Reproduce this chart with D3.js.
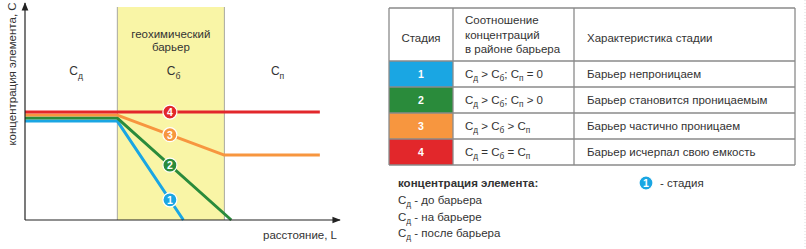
<!DOCTYPE html>
<html>
<head>
<meta charset="utf-8">
<script src="https://cdn.jsdelivr.net/npm/d3@7"></script>
<style>
  body { margin: 0; background: #fff; }
  svg { font-family: "Liberation Sans", Arial, sans-serif; }
</style>
</head>
<body>
<svg id="chart" width="806" height="249"></svg>
<script>
// chart data (distance L and concentration C in arbitrary units)
var barrier = [29.5, 63.7];
var stages = [1, 2, 3, 4];
var stageColors = ["#1aa6e3", "#2a8b3b", "#f7963f", "#e2272b"];
var stage1 = [[0, 46.0], [29.5, 46.0], [50.6, 0]];
var stage2 = [[0, 47.4], [29.5, 47.4], [65.9, 0]];
var stage3 = [[0, 48.8], [29.5, 48.8], [63.7, 30.2], [94.2, 30.2]];
var stage4 = [[0, 50.2], [94.2, 50.2]];
var markerL = 46.3;
var zoneLabels = ["д", "б", "п"];

// table data
var headers = ["Стадия", ["Соотношение", "концентраций", "в районе барьера"], "Характеристика стадии"];
var ratios = [
  [["С", "д"], " > ", ["С", "б"], "; ", ["С", "п"], " = 0"],
  [["С", "д"], " > ", ["С", "б"], "; ", ["С", "п"], " > 0"],
  [["С", "д"], " > ", ["С", "б"], " > ", ["С", "п"]],
  [["С", "д"], " = ", ["С", "б"], " = ", ["С", "п"]]
];
var descriptions = ["Барьер непроницаем", "Барьер становится проницаемым", "Барьер частично проницаем", "Барьер исчерпал свою емкость"];
var legendLines = ["до барьера", "на барьере", "после барьера"];

var svg = d3.select("#chart");
var textColor = "#333";

// ---- left chart ----
var x = d3.scaleLinear().domain([0, 100]).range([25, 338]);
var y = d3.scaleLinear().domain([0, 100]).range([220, 5]);

// barrier band
svg.append("rect")
  .attr("x", x(barrier[0]))
  .attr("y", 7)
  .attr("width", x(barrier[1]) - x(barrier[0]))
  .attr("height", y(0) - 7)
  .style("fill", "#f9f5a6");
[barrier[0], barrier[1]].forEach(function(b) {
  svg.append("line")
    .attr("x1", x(b)).attr("x2", x(b))
    .attr("y1", 7).attr("y2", y(0))
    .style("stroke", "#a8a8a0").style("stroke-width", 1);
});

// helper: text made of plain strings and [C, subscript] pairs
function appendParts(sel, parts, size) {
  var shift = 0;
  parts.forEach(function(p) {
    if (Array.isArray(p)) {
      sel.append("tspan").text(p[0]).attr("dy", -shift);
      sel.append("tspan").text(p[1])
        .attr("font-size", size * 0.72)
        .attr("dy", size * 0.3);
      shift = size * 0.3;
    } else {
      sel.append("tspan").text(p).attr("dy", -shift);
      shift = 0;
    }
  });
}

var bandMid = (barrier[0] + barrier[1]) / 2;
svg.append("text").attr("x", x(bandMid)).attr("y", 38)
  .attr("text-anchor", "middle").attr("font-size", 11.5).style("fill", textColor)
  .text("геохимический");
svg.append("text").attr("x", x(bandMid)).attr("y", 51)
  .attr("text-anchor", "middle").attr("font-size", 11.5).style("fill", textColor)
  .text("барьер");

var zoneX = [barrier[0] / 2 + 0.7, bandMid, (barrier[1] + 100) / 2 - 2];
zoneLabels.forEach(function(z, i) {
  var t = svg.append("text").attr("x", x(zoneX[i]) - 4).attr("y", 75)
    .attr("font-size", 12).style("fill", textColor);
  appendParts(t, [["С", z]], 12);
});

// lines
var line = d3.line().x(function(d) { return x(d[0]); }).y(function(d) { return y(d[1]); });
var series = [stage1, stage2, stage3, stage4];
series.forEach(function(s, i) {
  svg.append("path")
    .datum(s)
    .attr("d", line)
    .style("fill", "none")
    .style("stroke", stageColors[i])
    .style("stroke-width", 3)
    .style("stroke-linejoin", "round");
});

// value of series at a given L
function valueAt(s, l) {
  for (var k = 0; k < s.length - 1; k++) {
    if (l >= s[k][0] && l <= s[k + 1][0]) {
      var t = (l - s[k][0]) / (s[k + 1][0] - s[k][0]);
      return s[k][1] + t * (s[k + 1][1] - s[k][1]);
    }
  }
  return s[s.length - 1][1];
}

// stage markers
function marker(cx, cy, color, label) {
  svg.append("circle").attr("cx", cx).attr("cy", cy).attr("r", 7)
    .style("fill", color).style("stroke", "#fff").style("stroke-width", 1.2);
  svg.append("text").attr("x", cx).attr("y", cy + 3.8)
    .attr("text-anchor", "middle").attr("font-size", 10.5).attr("font-weight", "bold")
    .style("fill", "#fff").text(label);
}
series.forEach(function(s, i) {
  marker(x(markerL), y(valueAt(s, markerL)), stageColors[i], stages[i]);
});

// axes with arrows
svg.append("defs").append("marker")
  .attr("id", "arrow").attr("viewBox", "0 0 10 10")
  .attr("refX", 9).attr("refY", 5)
  .attr("markerWidth", 7).attr("markerHeight", 7)
  .attr("orient", "auto")
  .append("path").attr("d", "M0,1 L10,5 L0,9 Z").style("fill", "#222");

svg.append("line")
  .attr("x1", x(0)).attr("y1", y(0)).attr("x2", x(0)).attr("y2", 3)
  .style("stroke", "#222").style("stroke-width", 1.2).attr("marker-end", "url(#arrow)");
svg.append("line")
  .attr("x1", x(0)).attr("y1", y(0)).attr("x2", 340).attr("y2", y(0))
  .style("stroke", "#222").style("stroke-width", 1.2).attr("marker-end", "url(#arrow)");

svg.append("text")
  .attr("transform", "translate(16,74) rotate(-90)")
  .attr("text-anchor", "middle").attr("font-size", 11.5).style("fill", textColor)
  .text("концентрация элемента, С");
svg.append("text")
  .attr("x", 337).attr("y", 239)
  .attr("text-anchor", "end").attr("font-size", 11.5).style("fill", textColor)
  .text("расстояние, L");

// ---- table ----
var colX = [389, 453, 574, 795];
var rowY = [8, 61, 87, 113, 139, 165];

stages.forEach(function(s, i) {
  svg.append("rect")
    .attr("x", colX[0]).attr("y", rowY[i + 1])
    .attr("width", colX[1] - colX[0]).attr("height", rowY[i + 2] - rowY[i + 1])
    .style("fill", stageColors[i]);
  svg.append("text")
    .attr("x", (colX[0] + colX[1]) / 2).attr("y", (rowY[i + 1] + rowY[i + 2]) / 2 + 4)
    .attr("text-anchor", "middle").attr("font-size", 10.5).attr("font-weight", "bold")
    .style("fill", "#fff").text(s);

  var t = svg.append("text")
    .attr("x", colX[1] + 12).attr("y", (rowY[i + 1] + rowY[i + 2]) / 2 + 4)
    .attr("font-size", 11.5).style("fill", textColor);
  appendParts(t, ratios[i], 11.5);

  svg.append("text")
    .attr("x", colX[2] + 13).attr("y", (rowY[i + 1] + rowY[i + 2]) / 2 + 4)
    .attr("font-size", 11.5).style("fill", textColor).text(descriptions[i]);
});

// header
svg.append("text").attr("x", (colX[0] + colX[1]) / 2).attr("y", 42)
  .attr("text-anchor", "middle").attr("font-size", 11.5).style("fill", textColor).text(headers[0]);
headers[1].forEach(function(h, k) {
  svg.append("text").attr("x", colX[1] + 12).attr("y", 24 + k * 14.5)
    .attr("font-size", 11.5).style("fill", textColor).text(h);
});
svg.append("text").attr("x", colX[2] + 13).attr("y", 42)
  .attr("font-size", 11.5).style("fill", textColor).text(headers[2]);

// grid
var gridColor = "#8a8a8a";
rowY.forEach(function(ry) {
  svg.append("line").attr("x1", colX[0]).attr("x2", colX[3]).attr("y1", ry).attr("y2", ry)
    .style("stroke", gridColor).style("stroke-width", 1.3);
});
colX.forEach(function(cx) {
  svg.append("line").attr("x1", cx).attr("x2", cx).attr("y1", rowY[0]).attr("y2", rowY[rowY.length - 1])
    .style("stroke", gridColor).style("stroke-width", 1.3);
});

// ---- legend ----
svg.append("text").attr("x", 398).attr("y", 187)
  .attr("font-size", 11.5).attr("font-weight", "bold").style("fill", textColor)
  .text("концентрация элемента:");
legendLines.forEach(function(l, k) {
  var t = svg.append("text").attr("x", 398).attr("y", 204 + k * 16.5)
    .attr("font-size", 11.5).style("fill", textColor);
  appendParts(t, [["С", "д"], " - " + l], 11.5);
});
marker(646, 183, stageColors[0], 1);
svg.append("text").attr("x", 660).attr("y", 187)
  .attr("font-size", 11.5).style("fill", textColor).text("- стадия");

// faint dotted edge on the right
svg.append("line").attr("x1", 805).attr("x2", 805).attr("y1", 0).attr("y2", 249)
  .style("stroke", "#ddd").style("stroke-dasharray", "1,2");
</script>
</body>
</html>
